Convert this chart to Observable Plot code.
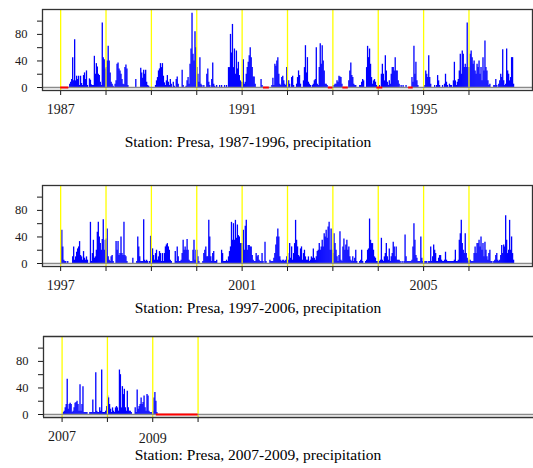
<!DOCTYPE html>
<html>
<head>
<meta charset="utf-8">
<script src="https://cdn.jsdelivr.net/npm/d3@7"></script>
<script src="https://cdn.jsdelivr.net/npm/@observablehq/plot@0.6"></script>
<style>
  html, body { margin: 0; padding: 0; background: #fff; }
  body { width: 533px; height: 468px; overflow: hidden; position: relative;
         font-family: "Liberation Serif", "Times New Roman", serif; color: #000; }
  .panel { position: absolute; left: 0; }
  .title { position: absolute; font-size: 15.5px; line-height: 15.5px; white-space: nowrap;
           transform: translateX(-50%); }
</style>
</head>
<body>
<div id="p1" class="panel" style="top:0px"></div>
<div id="p2" class="panel" style="top:176px"></div>
<div id="p3" class="panel" style="top:327px"></div>
<div class="title" style="left:248px; top:134px">Station: Presa, 1987-1996, precipitation</div>
<div class="title" style="left:258px; top:300px">Station: Presa, 1997-2006, precipitation</div>
<div class="title" style="left:258px; top:447px">Station: Presa, 2007-2009, precipitation</div>
<script>
// Daily precipitation (mm) at ~8-day resolution (46 steps per year)
const y1987 = [0,0,0,0,0,0,0,0,0,5,8,12,45,10,72,10,17,12,17,3,17,6,3,18,22,12,25,3,0,13,11,4,3,3,47,20,36,31,20,18,8,3,97,45,42,28];
const y1988 = [30,40,62,40,22,8,5,2,0,5,10,35,37,28,25,20,12,5,4,30,34,28,3,0,0,0,0,0,0,0,12,0,0,0,0,29,22,14,26,20,26,8,3,2,0,0];
const y1989 = [0,0,0,0,3,10,15,25,28,36,30,36,17,7,3,10,18,8,3,12,5,0,8,2,0,12,16,5,0,0,0,26,3,0,0,2,10,15,5,35,58,112,50,40,84,60];
const y1990 = [30,20,8,45,5,3,0,3,0,0,20,28,8,3,0,12,37,5,2,0,3,0,0,3,0,3,0,0,3,0,3,0,30,30,80,52,95,30,58,20,55,28,38,18,10,8];
const y1991 = [8,42,5,8,20,30,38,48,60,45,30,16,16,5,0,0,0,0,0,12,3,0,0,0,0,0,0,0,0,0,3,14,3,35,32,40,45,20,5,3,15,17,10,5,3,30];
const y1992 = [10,10,5,0,15,17,3,0,0,5,15,25,18,5,0,0,10,30,63,22,45,8,5,3,0,3,5,10,12,60,5,3,30,66,35,63,40,25,5,5,3,0,0,0,0,0];
const y1993 = [3,3,5,5,10,8,17,16,15,5,0,0,0,0,0,0,10,25,37,18,15,5,3,3,0,0,0,3,3,8,12,10,0,0,30,62,45,58,35,15,5,10,12,8,3,0];
const y1994 = [0,3,0,20,35,20,10,48,25,8,3,10,5,20,30,30,25,45,25,25,10,5,0,3,0,3,0,0,3,0,0,0,0,0,15,8,62,20,38,10,3,0,0,0,0,0];
const y1995 = [0,3,25,20,15,48,15,5,0,0,0,3,0,3,18,10,3,0,0,3,0,5,20,8,3,0,5,3,3,0,10,38,10,3,8,12,25,50,20,55,50,30,35,30,97,30];
const y1996 = [30,50,55,45,35,40,25,20,35,30,40,20,30,10,45,25,70,30,25,10,3,5,0,0,0,3,3,12,3,0,5,10,20,15,57,10,3,5,58,25,20,10,15,45,45,5];
const y1997 = [25,50,25,5,3,3,0,3,0,0,0,0,10,25,5,10,17,22,25,33,12,10,5,18,8,5,10,5,0,0,62,3,15,35,8,10,20,47,62,40,30,20,36,66,20,35];
const y1998 = [37,52,10,5,3,10,12,3,0,0,33,20,33,12,15,40,15,12,62,12,10,3,0,0,0,0,0,8,0,0,0,3,40,25,10,3,3,3,66,5,3,5,3,0,3,41];
const y1999 = [22,22,12,5,15,20,5,10,18,15,3,15,3,15,25,28,30,25,20,5,3,0,0,0,18,3,25,10,3,3,5,15,35,20,25,20,36,20,5,3,3,3,20,35,5,20];
const y2000 = [20,10,3,0,0,0,3,15,20,25,10,10,65,40,10,3,15,18,3,3,5,0,0,0,0,20,15,3,3,3,5,3,10,18,25,62,35,60,35,65,38,58,42,40,30,30];
const y2001 = [30,50,20,56,65,20,27,27,25,25,12,5,3,3,15,10,12,5,3,3,15,3,0,32,3,0,0,0,5,3,3,3,8,15,28,40,52,40,10,5,3,5,5,3,5,10];
const y2002 = [15,5,30,8,25,5,15,30,65,35,25,12,10,22,25,5,15,20,10,5,5,10,3,5,10,8,22,8,5,10,18,20,30,20,25,35,25,45,40,50,38,55,62,20,52,20];
const y2003 = [15,45,30,20,10,3,12,48,5,3,25,37,20,28,35,20,25,10,5,3,10,3,8,20,3,0,0,3,5,20,3,0,0,3,5,20,22,67,35,30,30,20,10,8,3,3];
const y2004 = [3,3,5,38,5,3,10,15,30,10,5,22,3,10,15,32,25,10,25,5,5,5,3,0,3,0,3,43,10,3,3,3,3,3,5,25,60,35,12,8,3,3,3,40,8,3];
const y2005 = [0,3,3,3,0,3,3,25,3,10,28,20,15,3,3,8,12,12,5,3,3,5,17,5,3,3,3,3,3,3,3,5,20,3,3,5,35,45,65,30,20,15,45,15,8,3];
const y2006 = [5,5,3,3,3,15,25,15,30,30,35,25,40,20,30,10,32,20,10,5,15,20,3,3,0,3,5,12,15,5,3,5,12,27,15,28,25,72,35,15,20,65,20,40,15,5];
const y2007 = [0,3,5,10,15,53,8,15,17,15,3,5,10,17,18,20,15,5,45,5,15,42,3,3,3,3,0,0,3,3,3,22,3,3,63,5,3,3,10,5,67,3,3,3,5,12];
const y2008 = [28,25,15,8,3,10,5,3,10,12,10,5,67,60,10,42,30,38,10,5,35,10,5,5,3,0,0,0,10,3,37,8,12,15,25,15,18,28,10,5,30,28,5,3,3,3];
const y2009 = [5,25,33,20,3];

// Missing-data periods (fractional years), drawn in red at zero
const missing1 = [[1987.0,1987.18],[1991.47,1991.6],[1992.9,1993.0],[1993.22,1993.34],[1993.97,1994.1],[1994.67,1994.77]];
const missing2 = [];
const missing3 = [[2009.08,2010.0]];

// Tick years and labelled years
const ticks1 = [1987,1988,1989,1990,1991,1992,1993,1994,1995,1996];
const labels1 = [1987,1991,1995];
const ticks2 = [1997,1998,1999,2000,2001,2002,2003,2004,2005,2006];
const labels2 = [1997,2001,2005];
const ticks3 = [2007,2008,2009,2010];
const labels3a = [2007];
const labels3b = [2009];
const yTicks = [0,20,40,60,80,100];
const yLabels = [0,40,80];

const STEPS = 46;
function rowsFrom(yearArrays) {
  const out = [];
  for (const [year, arr] of yearArrays) {
    arr.forEach((v, i) => { if (v > 0) out.push({x: year + (i + 0.2) / STEPS, v}); });
  }
  return out;
}

const Y_DOMAIN = [-4.5, 117.5];

function makePanel({rows, missing, domain, ticks, labels, extraLabels, marginLeft, marginRight, openRight}) {
  const marks = [
    Plot.ruleX(rows, {x: "x", y1: 0, y2: "v", stroke: "#0000ff", strokeWidth: 1.3}),
    Plot.ruleX(ticks, {stroke: "#ffff00", strokeWidth: 1.3}),
    Plot.ruleY([0], {stroke: "#8a8a8a", strokeWidth: 1.6}),
    Plot.ruleY(missing, {y: 0, x1: d => d[0], x2: d => d[1], stroke: "#ff0000", strokeWidth: 2}),
    Plot.axisY({ticks: yTicks, tickFormat: d => yLabels.includes(d) ? String(d) : "",
                tickSize: 5, tickPadding: 10, fontSize: 12.5, label: null}),
    Plot.axisX({ticks: ticks, tickFormat: d => labels.includes(d) ? String(d) : "",
                tickSize: 5, tickPadding: 8.5, fontSize: 14, label: null})
  ];
  if (extraLabels) {
    marks.push(Plot.axisX({ticks: extraLabels, tickFormat: d => String(d),
                           tickSize: 0, tickPadding: 16, fontSize: 14, label: null}));
  }
  if (openRight) {
    marks.push(Plot.ruleY([Y_DOMAIN[0], Y_DOMAIN[1]], {stroke: "#333", strokeWidth: 1.3}));
    marks.push(Plot.ruleX([domain[0]], {stroke: "#333", strokeWidth: 1.3}));
  } else {
    marks.push(Plot.frame({stroke: "#333", strokeWidth: 1.3}));
  }
  return Plot.plot({
    width: 533,
    height: 120,
    marginLeft,
    marginRight,
    marginTop: 9,
    marginBottom: 30,
    x: {domain, axis: null},
    y: {domain: Y_DOMAIN, axis: null},
    style: {fontFamily: "'Liberation Serif', 'Times New Roman', serif", color: "#1a1a1a",
            background: "transparent", overflow: "hidden"},
    marks
  });
}

const rows1 = rowsFrom([[1987,y1987],[1988,y1988],[1989,y1989],[1990,y1990],[1991,y1991],
                        [1992,y1992],[1993,y1993],[1994,y1994],[1995,y1995],[1996,y1996]]);
const rows2 = rowsFrom([[1997,y1997],[1998,y1998],[1999,y1999],[2000,y2000],[2001,y2001],
                        [2002,y2002],[2003,y2003],[2004,y2004],[2005,y2005],[2006,y2006]]);
const rows3 = rowsFrom([[2007,y2007],[2008,y2008],[2009,y2009]]);

document.getElementById("p1").append(makePanel({
  rows: rows1, missing: missing1, domain: [1986.6, 1997.4], ticks: ticks1, labels: labels1,
  marginLeft: 42, marginRight: 1
}));
document.getElementById("p2").append(makePanel({
  rows: rows2, missing: missing2, domain: [1996.6, 2007.4], ticks: ticks2, labels: labels2,
  marginLeft: 42, marginRight: 1
}));
document.getElementById("p3").append(makePanel({
  rows: rows3, missing: missing3, domain: [2006.59, 2017.4], ticks: ticks3, labels: labels3a,
  extraLabels: labels3b, marginLeft: 43, marginRight: 0, openRight: true
}));
</script>
</body>
</html>
